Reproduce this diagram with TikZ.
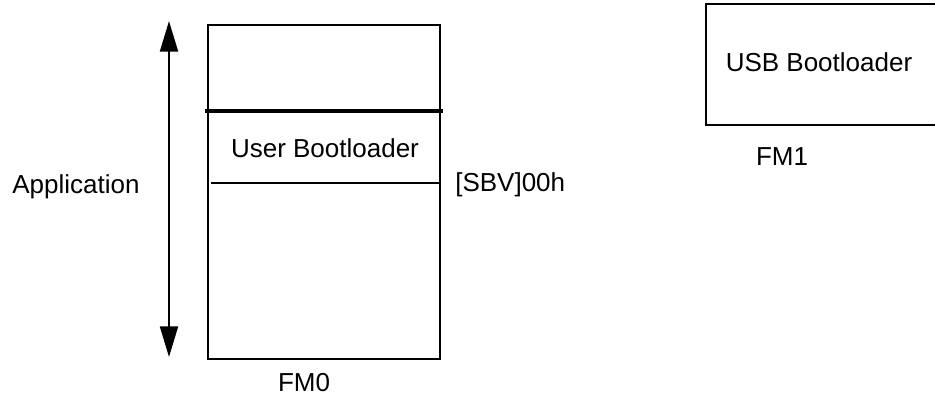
\documentclass[tikz,border=0pt]{standalone}
\usepackage{fontspec}
\setmainfont{Liberation Sans}
\usetikzlibrary{arrows.meta}
\begin{document}
\begin{tikzpicture}[x=0.75pt,y=-0.75pt,
  lbl/.style={font=\fontsize{19.5}{23}\selectfont, inner sep=0pt},
  boxline/.style={line width=1.6pt, black}]
\useasboundingbox (0,0) rectangle (935,398);
% FM0 box
\node[boxline, draw, minimum width=232*0.75pt, minimum height=334*0.75pt, inner sep=0pt, anchor=north west] (fm0) at (207,24) {};
\coordinate (tl) at (205,111);
\coordinate (tr) at (443,111);
\draw[line width=2.4pt] (tl) -- (tr);
\coordinate (sl) at (211,183);
\coordinate (sr) at (441,183);
\draw[line width=1.2pt] (sl) -- (sr);
% arrow
\coordinate (atop) at (169,21);
\coordinate (abot) at (169,357);
\draw[line width=1.6pt, {Triangle[width=13.5pt,length=23pt]}-{Triangle[width=13.5pt,length=23pt]}] (atop) -- (abot);
% texts
\node[lbl] (ub) at (325,148) {User Bootloader};
\node[lbl] (app) at (76,187) {Application};
\node[lbl, anchor=west] (sbv) at (455,185) {[SBV]00h};
\node[lbl] (fm0l) at (304,383) {FM0};
% FM1 box (right side cut off)
\coordinate (u1) at (936,4);
\coordinate (u2) at (706,4);
\coordinate (u3) at (706,125);
\coordinate (u4) at (936,125);
\draw[boxline] (u1) -- (u2) -- (u3) -- (u4);
\node[lbl] (usb) at (819,62) {USB Bootloader};
\node[lbl] (fm1l) at (782,157) {FM1};
\end{tikzpicture}
\end{document}
